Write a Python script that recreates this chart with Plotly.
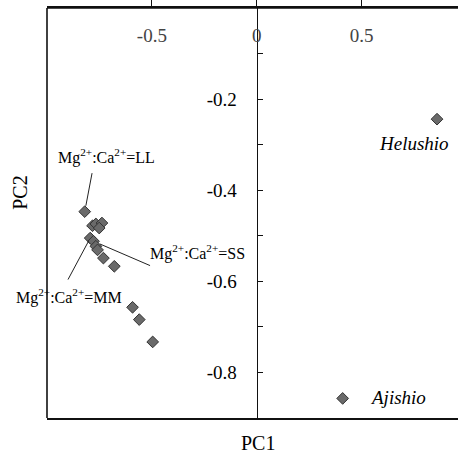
import plotly.graph_objects as go

# Data (PC1, PC2)
pc1 = [-0.820, -0.783, -0.767, -0.738, -0.751, -0.794, -0.778, -0.767, -0.759,
       -0.731, -0.679, -0.592, -0.560, -0.496, 0.860, 0.410]
pc2 = [-0.447, -0.478, -0.474, -0.472, -0.483, -0.505, -0.512, -0.523, -0.531,
       -0.549, -0.567, -0.657, -0.684, -0.733, -0.244, -0.857]

x_ticks = [-0.5, 0, 0.5]
x_ticktext = ["-0.5", "0", "0.5"]
y_ticks = [-0.8, -0.6, -0.4, -0.2]
y_ticktext = ["-0.8", "-0.6", "-0.4", "-0.2"]

# labelled points: index, text
named = [(14, "Helushio"), (15, "Ajishio")]
ratio_labels = [(0, "Mg<sup>2+</sup>:Ca<sup>2+</sup>=LL"),
                (6, "Mg<sup>2+</sup>:Ca<sup>2+</sup>=SS"),
                (5, "Mg<sup>2+</sup>:Ca<sup>2+</sup>=MM")]

FONT = "Liberation Serif"

fig = go.Figure()
fig.add_trace(go.Scatter(
    x=pc1, y=pc2, mode="markers",
    marker=dict(symbol="diamond", size=9, color="#6a6a6a",
                line=dict(color="#333", width=1)),
    showlegend=False, hoverinfo="skip"))

XR = [-1.0, 0.96]
fig.update_layout(
    width=458, height=459,
    margin=dict(l=47, r=0, t=8, b=41),
    paper_bgcolor="white", plot_bgcolor="white",
    font=dict(family=FONT, color="black", size=18),
    xaxis=dict(range=XR, side="top", showgrid=False, zeroline=False,
               showline=True, mirror=True, linecolor="#111", linewidth=1.6,
               ticks="outside", ticklen=7, tickcolor="#111",
               tickvals=x_ticks, ticktext=x_ticktext,
               ticklabelposition="inside", ticklabelstandoff=22,
               tickfont=dict(size=19, family=FONT)),
    yaxis=dict(range=[-0.9, 0], showgrid=False, zeroline=False,
               anchor="free", position=(0 - XR[0]) / (XR[1] - XR[0]),
               showline=True, linecolor="#111", linewidth=1.2,
               ticks="inside", ticklen=5, tickcolor="#111",
               tickvals=y_ticks, ticktext=y_ticktext,
               minor=dict(dtick=0.1, ticks="inside", ticklen=5, tickcolor="#111"),
               ticklabelstandoff=16,
               tickfont=dict(size=19, family=FONT)),
)

# left and top border
fig.add_shape(type="line", xref="x domain", yref="y domain",
              x0=0, x1=0, y0=0, y1=1, line=dict(color="#111", width=1.6))
fig.add_shape(type="line", xref="x domain", yref="y domain",
              x0=0, x1=1, y0=1, y1=1, line=dict(color="#111", width=1.6))

# arrows (leader lines) and texts for ratio labels
arrow_off = {0: (7.6, -40, 6), 6: (58, 25, 7), 5: (-23, 43, 3)}
text_shift = {0: (22, 55), 6: (104, -11), 5: (-21, -58)}
for idx, txt in ratio_labels:
    ax, ay, so = arrow_off[idx]
    fig.add_annotation(x=pc1[idx], y=pc2[idx], text="", showarrow=True,
                       arrowhead=0, arrowwidth=1, arrowcolor="#222",
                       ax=ax, ay=ay, standoff=so)
    xs, ys = text_shift[idx]
    fig.add_annotation(x=pc1[idx], y=pc2[idx], text=txt, showarrow=False,
                       xshift=xs, yshift=ys, font=dict(size=16, family=FONT))

name_shift = {14: (-23, -24), 15: (55, 1)}
for idx, txt in named:
    xs, ys = name_shift[idx]
    fig.add_annotation(x=pc1[idx], y=pc2[idx], text="<i>" + txt + "</i>",
                       showarrow=False, xshift=xs, yshift=ys,
                       font=dict(size=19, family=FONT))

# axis titles
fig.add_annotation(xref="paper", yref="paper", x=0.513, y=-0.061,
                   xanchor="center", yanchor="middle",
                   text="PC1", showarrow=False, font=dict(size=20, family=FONT))
fig.add_annotation(xref="paper", yref="paper", x=-0.066, y=0.549,
                   xanchor="center", yanchor="middle",
                   text="PC2", showarrow=False, textangle=-90,
                   font=dict(size=20, family=FONT))

fig.write_html("out.html")
